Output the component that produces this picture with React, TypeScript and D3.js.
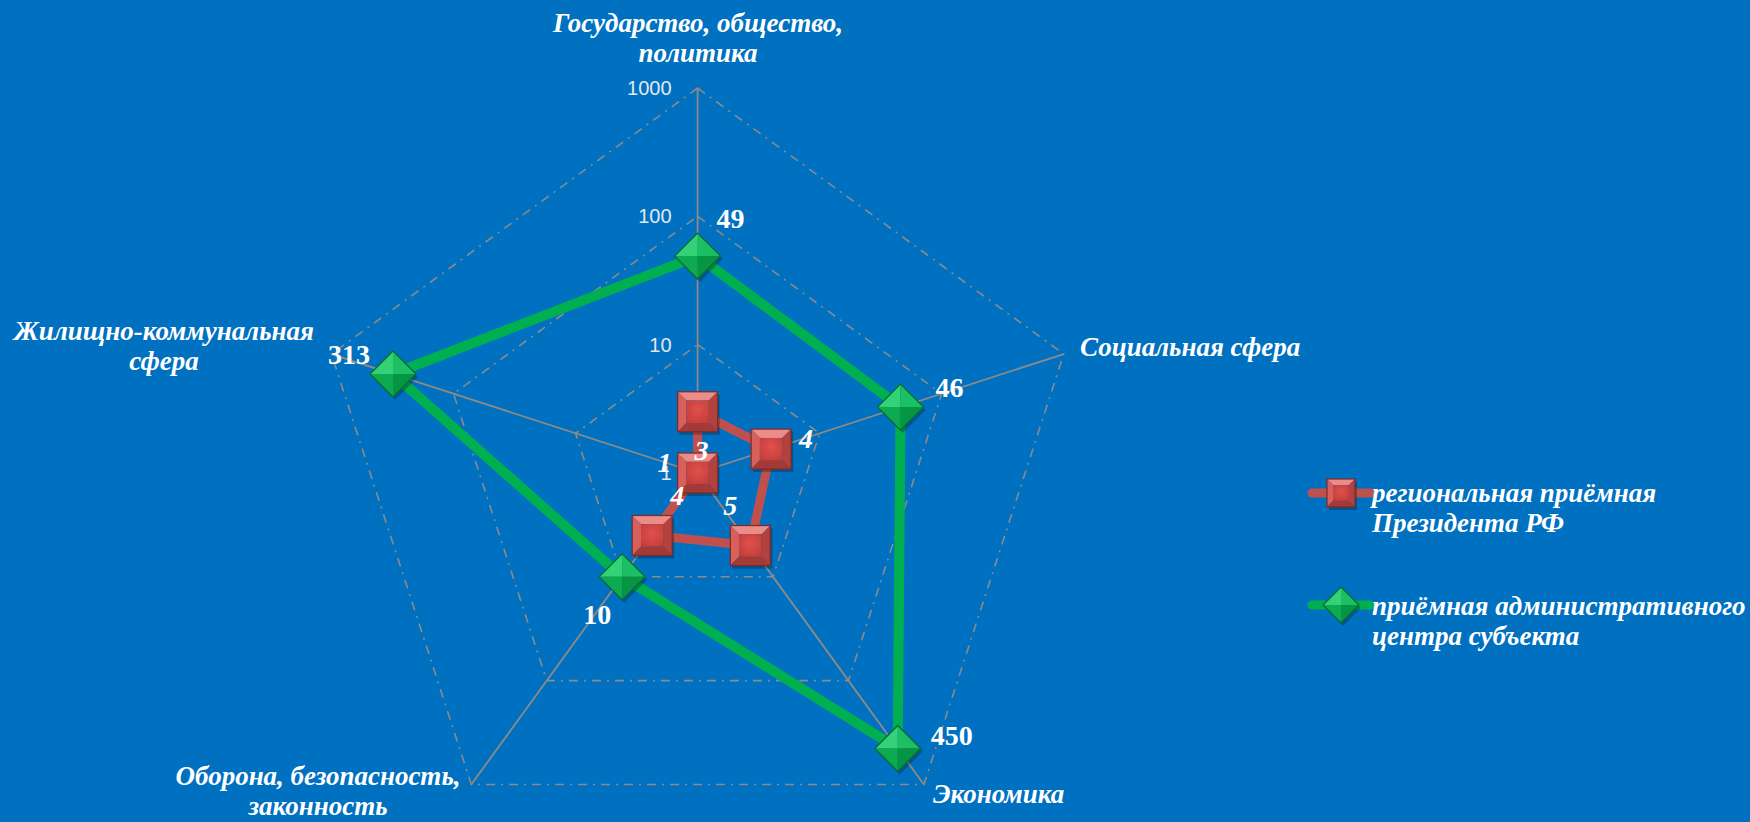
import React from "react";
import * as d3 from "d3";

// axis categories (clockwise from top)
const categories = [
  ["Государство, общество,", "политика"],
  ["Социальная сфера"],
  ["Экономика"],
  ["Оборона, безопасность,", "законность"],
  ["Жилищно-коммунальная", "сфера"],
];

const ticks = [1, 10, 100, 1000];

const presidentValues = [3, 4, 5, 4, 1];
const centerValues = [49, 46, 450, 10, 313];

const seriesNames = [
  ["региональная приёмная", "Президента РФ"],
  ["приёмная административного", "центра субъекта"],
];

const W = 1750;
const H = 822;
const cx = 697.6;
const cy = 473;
const R = 385;
const BG = "#0070C0";
const GRID = "#8f8a86";

// label placement per point (offsets from the marker)
const greenLabelOffsets = [
  { dx: 19, dy: -28, anchor: "start" },
  { dx: 35, dy: -10, anchor: "start" },
  { dx: 33, dy: -3, anchor: "start" },
  { dx: -25, dy: 47, anchor: "middle" },
  { dx: -23, dy: -10, anchor: "end" },
];
const redLabelOffsets = [
  { dx: 4, dy: 48 },
  { dx: 35, dy: -1 },
  { dx: -20, dy: -31 },
  { dx: 25, dy: -31 },
  { dx: -33, dy: -1 },
];

// axis label positions: [x, y of first baseline, anchor]
const catLabelPos: [number, number, string][] = [
  [698, 32, "middle"],
  [1080, 356, "start"],
  [933, 803, "start"],
  [318, 785, "middle"],
  [164, 340, "middle"],
];

const serif = "'Liberation Serif', 'Times New Roman', serif";
const sans = "'Liberation Sans', Arial, sans-serif";

function RedSquare({ x, y, s = 40 }: { x: number; y: number; s?: number }) {
  const h = s / 2;
  const b = s * 0.22;
  const x0 = x - h, x1 = x + h, y0 = y - h, y1 = y + h;
  return (
    <g>
      <rect x={x0 + 2} y={y0 + 3} width={s} height={s} fill="rgba(0,0,0,0.25)" />
      <polygon points={`${x0},${y0} ${x1},${y0} ${x1 - b},${y0 + b} ${x0 + b},${y0 + b}`} fill="#EC8C89" />
      <polygon points={`${x0},${y0} ${x0 + b},${y0 + b} ${x0 + b},${y1 - b} ${x0},${y1}`} fill="#D8605C" />
      <polygon points={`${x1},${y0} ${x1},${y1} ${x1 - b},${y1 - b} ${x1 - b},${y0 + b}`} fill="#B3413E" />
      <polygon points={`${x0},${y1} ${x0 + b},${y1 - b} ${x1 - b},${y1 - b} ${x1},${y1}`} fill="#A33A37" />
      <rect x={x0 + b} y={y0 + b} width={s - 2 * b} height={s - 2 * b} fill="url(#redInner)" />
      <rect x={x0} y={y0} width={s} height={s} fill="none" stroke="#7E2926" strokeWidth={1.2} />
    </g>
  );
}

function GreenDiamond({ x, y, s = 46 }: { x: number; y: number; s?: number }) {
  const h = s / 2;
  return (
    <g>
      <polygon points={`${x + 2},${y - h + 3} ${x + h + 2},${y + 3} ${x + 2},${y + h + 3} ${x - h + 2},${y + 3}`} fill="rgba(0,0,0,0.25)" />
      <polygon points={`${x},${y - h} ${x},${y} ${x - h},${y}`} fill="#34D277" />
      <polygon points={`${x},${y - h} ${x + h},${y} ${x},${y}`} fill="#1CBF63" />
      <polygon points={`${x - h},${y} ${x},${y} ${x},${y + h}`} fill="#0DAA52" />
      <polygon points={`${x + h},${y} ${x},${y + h} ${x},${y}`} fill="#069643" />
      <polygon points={`${x},${y - h} ${x + h},${y} ${x},${y + h} ${x - h},${y}`} fill="none" stroke="#046B2E" strokeWidth={1.2} />
    </g>
  );
}

export default function App() {
  const r = d3.scaleLog().domain([1, 1000]).range([0, R]);
  const n = categories.length;
  const angle = (i: number) => -Math.PI / 2 + (i * 2 * Math.PI) / n;
  const pt = (i: number, v: number): [number, number] => [
    cx + r(v) * Math.cos(angle(i)),
    cy + r(v) * Math.sin(angle(i)),
  ];
  const line = d3.line().curve(d3.curveLinearClosed);

  const redPts = presidentValues.map((v, i) => pt(i, v));
  const greenPts = centerValues.map((v, i) => pt(i, v));

  return (
    <svg
      width={W}
      height={H}
      style={{ position: "fixed", left: 0, top: 0, display: "block" }}
    >
      <defs>
        <radialGradient id="redInner" cx="50%" cy="40%" r="70%">
          <stop offset="0%" stopColor="#E0514D" />
          <stop offset="100%" stopColor="#C43D3A" />
        </radialGradient>
      </defs>
      <rect width={W} height={H} fill={BG} />

      {/* grid pentagons */}
      {ticks.slice(1).map((t) => (
        <path
          key={t}
          d={line(categories.map((_, i) => pt(i, t))) || ""}
          fill="none"
          stroke={GRID}
          strokeWidth={1.6}
          strokeDasharray="9 6 2 6"
        />
      ))}
      {/* spokes */}
      {categories.map((_, i) => {
        const [x, y] = pt(i, 1000);
        return <line key={i} x1={cx} y1={cy} x2={x} y2={y} stroke={GRID} strokeWidth={1.8} />;
      })}
      {/* tick labels */}
      {ticks.map((t) => (
        <text
          key={t}
          x={cx - 26}
          y={cy - r(t) + 7}
          textAnchor="end"
          fontFamily={sans}
          fontSize={20}
          fill="#E4E8EE"
        >
          {t}
        </text>
      ))}

      {/* series lines */}
      <path d={line(greenPts) || ""} fill="none" stroke="#00B050" strokeWidth={10} strokeLinejoin="round" />
      <path d={line(redPts) || ""} fill="none" stroke="#C0504D" strokeWidth={9} strokeLinejoin="round" />

      {greenPts.map(([x, y], i) => (
        <GreenDiamond key={i} x={x} y={y} />
      ))}
      {redPts.map(([x, y], i) => (
        <RedSquare key={i} x={x} y={y} />
      ))}

      {/* data labels */}
      {greenPts.map(([x, y], i) => (
        <text
          key={i}
          x={x + greenLabelOffsets[i].dx}
          y={y + greenLabelOffsets[i].dy}
          textAnchor={greenLabelOffsets[i].anchor}
          fontFamily={serif}
          fontWeight="bold"
          fontSize={28}
          fill="#fff"
        >
          {centerValues[i]}
        </text>
      ))}
      {redPts.map(([x, y], i) => (
        <text
          key={i}
          x={x + redLabelOffsets[i].dx}
          y={y + redLabelOffsets[i].dy}
          textAnchor="middle"
          fontFamily={serif}
          fontWeight="bold"
          fontStyle="italic"
          fontSize={28}
          fill="#fff"
        >
          {presidentValues[i]}
        </text>
      ))}

      {/* category labels */}
      {categories.map((lines, i) => (
        <text
          key={i}
          x={catLabelPos[i][0]}
          y={catLabelPos[i][1]}
          textAnchor={catLabelPos[i][2]}
          fontFamily={serif}
          fontWeight="bold"
          fontStyle="italic"
          fontSize={27}
          fill="#fff"
        >
          {lines.map((l, j) => (
            <tspan key={j} x={catLabelPos[i][0]} dy={j === 0 ? 0 : 30}>
              {l}
            </tspan>
          ))}
        </text>
      ))}

      {/* legend */}
      <g>
        <line x1={1312} y1={493} x2={1370} y2={493} stroke="#C0504D" strokeWidth={9} strokeLinecap="round" />
        <RedSquare x={1341} y={493} s={28} />
        <line x1={1312} y1={605} x2={1370} y2={605} stroke="#00B050" strokeWidth={9} strokeLinecap="round" />
        <GreenDiamond x={1341} y={605} s={36} />
        {seriesNames.map((lines, i) => (
          <text
            key={i}
            x={1372}
            y={i === 0 ? 502 : 615}
            fontFamily={serif}
            fontWeight="bold"
            fontStyle="italic"
            fontSize={27}
            fill="#fff"
          >
            {lines.map((l, j) => (
              <tspan key={j} x={1372} dy={j === 0 ? 0 : 30}>
                {l}
              </tspan>
            ))}
          </text>
        ))}
      </g>
    </svg>
  );
}
